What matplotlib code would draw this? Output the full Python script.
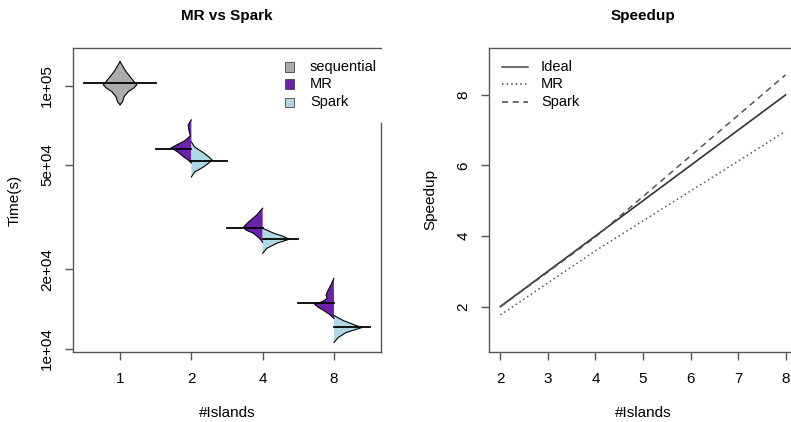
import numpy as np
import matplotlib.pyplot as plt
from matplotlib import font_manager
from matplotlib.patches import Rectangle
from matplotlib.lines import Line2D

plt.rcParams['font.family'] = ['Liberation Sans', 'DejaVu Sans']

## data (times in s, bean half widths in category units)
islands = ['1', '2', '4', '8']
seq_median = 102700
mr_median = [57490, 28710, 14850]
spark_median = [51730, 26060, 12030]

seq_t = [123500, 118200, 113100, 108200, 103600, 100900, 98260, 94860, 90780, 86880, 84620]
seq_w = [0, .042, .085, .141, .197, .235, .197, .113, .056, .035, 0]

mr2_t = [74180, 71000, 67940, 64450, 61680, 59550, 58000, 56000, 53590, 52190, 50830]
mr2_w = [0, .045, .035, .014, .095, .205, .285, .190, .105, .045, 0]
spark2_t = [61140, 58510, 55510, 53590, 52190, 50830, 49070, 46960, 44940]
spark2_w = [0, .045, .175, .245, .29, .245, .169, .045, 0]

mr4_t = [34220, 32180, 30270, 28970, 28210, 27480, 26300, 25390]
mr4_w = [0, .085, .2, .27, .23, .13, .045, 0]
spark4_t = [28710, 27480, 26760, 26060, 25170, 24090, 23050]
spark4_w = [0, .155, .285, .37, .2, .06, 0]

mr8_t = [18500, 17400, 16510, 15940, 15520, 15110, 14720, 14340, 13970, 13480, 13020]
mr8_w = [0, .045, .09, .11, .095, .16, .27, .215, .145, .06, 0]
spark8_t = [13360, 12790, 12240, 12030, 11510, 11020, 10540]
spark8_w = [0, .13, .31, .395, .17, .06, 0]

sp_x = [2, 4, 8]
ideal = [2, 4, 8]
mr_speedup = [1.76, 3.58, 6.97]
spark_speedup = [1.99, 3.97, 8.57]

c_seq = '#ABABAB'
c_mr = '#6A22AD'
c_spark = '#ADD8E6'
c_box = '#555555'

have = {f.name for f in font_manager.fontManager.ttflist}
if 'Liberation Sans Narrow' in have:
    title_font = dict(family='Liberation Sans Narrow', fontsize=13.5, fontweight='bold')
else:
    title_font = dict(fontsize=11, fontweight='bold')

W, H = 791, 422
fig = plt.figure(figsize=(W/100, H/100), dpi=100)
def fx(x): return x/W
def fy(y): return 1-y/H

ax1 = fig.add_axes([fx(73), fy(352), 308/W, 304/H])
ax2 = fig.add_axes([fx(489), fy(352), 308/W, 304/H])

##beans
def half_bean(ax, pos, t, w, side, color):
    t = np.array(t); w = np.array(w)
    ax.fill_betweenx(t, pos, pos+side*w, facecolor=color, edgecolor='none', lw=0)
    ax.plot(pos+side*w, t, color='black', lw=0.8)

half_bean(ax1, 1, seq_t, seq_w, -1, c_seq)
half_bean(ax1, 1, seq_t, seq_w, 1, c_seq)
ax1.plot([0.5, 1.5], [seq_median]*2, color='black', lw=1.3)
mr_beans = [(mr2_t, mr2_w), (mr4_t, mr4_w), (mr8_t, mr8_w)]
spark_beans = [(spark2_t, spark2_w), (spark4_t, spark4_w), (spark8_t, spark8_w)]
for i in range(3):
    p = i+2
    half_bean(ax1, p, *mr_beans[i], -1, c_mr)
    half_bean(ax1, p, *spark_beans[i], 1, c_spark)
    ax1.plot([p-0.5, p], [mr_median[i]]*2, color='black', lw=1.3)
    ax1.plot([p, p+0.5], [spark_median[i]]*2, color='black', lw=1.3)

ax1.set_yscale('log')
ax1.set_xlim(0.34, 4.66)
ax1.set_ylim(9706, 139200)
ax1.set_xticks([1, 2, 3, 4])
ax1.set_xticklabels(islands)
ax1.set_yticks([1e4, 2e4, 5e4, 1e5])
ax1.set_yticklabels(['1e+04', '2e+04', '5e+04', '1e+05'], rotation=90, va='center')
ax1.minorticks_off()
ax1.spines['right'].set_bounds(9706, 72000)

##speedup
ax2.plot(sp_x, ideal, color='#333333', lw=1.2)
ax2.plot(sp_x, mr_speedup, color='#555555', lw=1.1, linestyle=(0, (1, 2)))
ax2.plot(sp_x, spark_speedup, color='#555555', lw=1.1, linestyle=(0, (4, 3)))
ax2.set_xlim(1.76, 8.24)
ax2.set_ylim(0.71, 9.33)
ax2.set_xticks(range(2, 9))
ax2.set_yticks([2, 4, 6, 8])
ax2.set_yticklabels(['2', '4', '6', '8'], rotation=90, va='center')

for ax in (ax1, ax2):
    for s in ax.spines.values():
        s.set_color(c_box); s.set_linewidth(1.0)
    ax.tick_params(axis='both', colors=c_box, labelcolor='black', length=5.5, width=1.0, labelsize=11)
    ax.tick_params(axis='x', pad=9)
    ax.tick_params(axis='y', pad=8)

##titles and labels
fig.text(fx(227), fy(16), 'MR vs Spark', ha='center', va='center', **title_font)
fig.text(fx(643), fy(16), 'Speedup', ha='center', va='center', **title_font)
fig.text(fx(227), fy(413), '#Islands', ha='center', va='center', fontsize=11)
fig.text(fx(643), fy(413), '#Islands', ha='center', va='center', fontsize=11)
fig.text(fx(15), fy(200), 'Time(s)', ha='center', va='center', rotation=90, fontsize=11)
fig.text(fx(430), fy(200), 'Speedup', ha='center', va='center', rotation=90, fontsize=11)

##legends
for yy, lab, col in zip([67, 84, 102], ['sequential', 'MR', 'Spark'], [c_seq, c_mr, c_spark]):
    fig.add_artist(Rectangle((fx(285), fy(yy+4.5)), 9/W, 9/H, transform=fig.transFigure,
                             facecolor=col, edgecolor='#444444', lw=0.6))
    fig.text(fx(310), fy(yy), lab, ha='left', va='center', fontsize=10.5)
for yy, lab, ls in zip([67, 84, 102], ['Ideal', 'MR', 'Spark'], ['-', (0, (1, 2)), (0, (4, 3))]):
    fig.add_artist(Line2D([fx(502), fx(528)], [fy(yy)]*2, transform=fig.transFigure,
                          color='#444444', lw=1.1, linestyle=ls))
    fig.text(fx(541), fy(yy), lab, ha='left', va='center', fontsize=10.5)

fig.savefig('out.png', dpi=100)
